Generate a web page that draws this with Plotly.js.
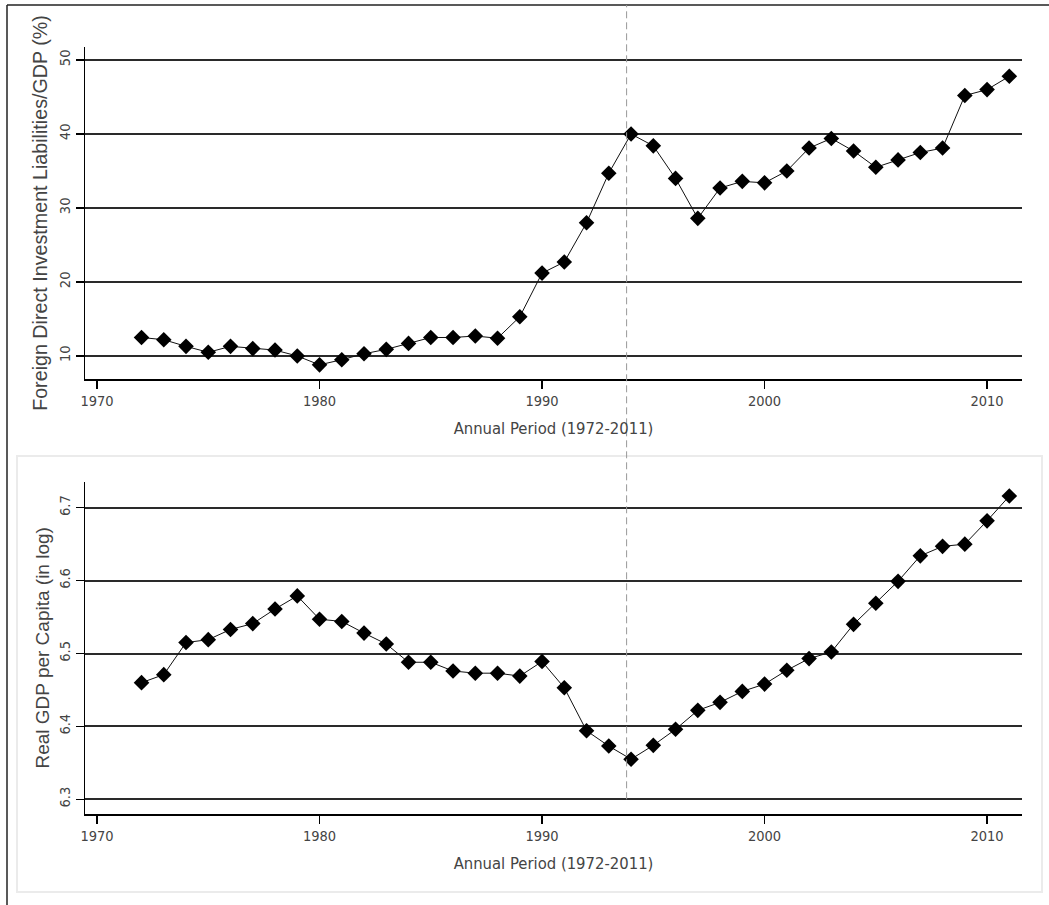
<!DOCTYPE html>
<html>
<head>
<meta charset="utf-8">
<script src="https://cdn.plot.ly/plotly-3.0.1.min.js"></script>
<style>html,body{margin:0;padding:0;background:#fff;}#chart{width:1049px;height:905px;}</style>
</head>
<body>
<div id="chart"></div>
<script>
// ---- data ----
const years = [1972,1973,1974,1975,1976,1977,1978,1979,1980,1981,1982,1983,1984,1985,1986,1987,1988,1989,1990,1991,
               1992,1993,1994,1995,1996,1997,1998,1999,2000,2001,2002,2003,2004,2005,2006,2007,2008,2009,2010,2011];
const fdiLiabilitiesGdp = [12.5,12.2,11.3,10.5,11.3,11.0,10.8,10.0,8.8,9.5,
                           10.3,10.9,11.7,12.5,12.5,12.7,12.4,15.3,21.2,22.7,
                           28.0,34.7,40.0,38.4,34.0,28.6,32.7,33.6,33.4,35.0,
                           38.1,39.4,37.7,35.5,36.5,37.5,38.1,45.2,46.0,47.8];
const logRealGdpPc = [6.460,6.471,6.515,6.519,6.533,6.541,6.561,6.579,6.547,6.544,
                      6.528,6.513,6.488,6.488,6.476,6.473,6.473,6.469,6.489,6.453,
                      6.394,6.373,6.355,6.374,6.396,6.422,6.433,6.448,6.458,6.477,
                      6.493,6.502,6.540,6.569,6.599,6.634,6.647,6.650,6.682,6.716];
const xTickVals = [1970,1980,1990,2000,2010];
const xTickText = ['1970','1980','1990','2000','2010'];
const topTickVals = [10,20,30,40,50];
const topTickText = ['10','20','30','40','50'];
const botTickVals = [6.3,6.4,6.5,6.6,6.7];
const botTickText = ['6.3','6.4','6.5','6.6','6.7'];
const breakYear = 1993.8;
const xTitle = 'Annual Period (1972-2011)';
const topYTitle = 'Foreign Direct Investment Liabilities/GDP (%)';
const botYTitle = 'Real GDP per Capita (in log)';

// ---- layout geometry (pixels) ----
const W = 1049, H = 905;
const M = {l: 85, r: 27, t: 47, b: 91};
const PW = W - M.l - M.r, PH = H - M.t - M.b;
const px = x => (x - M.l) / PW;             // pixel x -> paper
const py = y => (H - M.b - y) / PH;         // pixel y -> paper

const narrow = '"DejaVu Sans Condensed", "Liberation Sans Narrow", "Arial Narrow", sans-serif';
const sans = '"Liberation Sans", Arial, sans-serif';

const markerStyle = {symbol: 'diamond', size: 12, color: '#000', line: {width: 0}};
const lineStyle = {color: '#111', width: 1};

const traces = [
  {x: years, y: fdiLiabilitiesGdp, xaxis: 'x', yaxis: 'y', type: 'scatter', mode: 'lines+markers',
   marker: markerStyle, line: lineStyle, hoverinfo: 'x+y', showlegend: false},
  {x: years, y: logRealGdpPc, xaxis: 'x2', yaxis: 'y2', type: 'scatter', mode: 'lines+markers',
   marker: markerStyle, line: lineStyle, hoverinfo: 'x+y', showlegend: false}
];

const xCommon = {
  range: [1969.46, 2011.57], tickvals: xTickVals, ticktext: xTickText,
  showgrid: false, zeroline: false, showline: true, linecolor: '#000', linewidth: 1.5,
  ticks: 'outside', ticklen: 8, tickwidth: 1.2, tickcolor: '#000', ticklabelstandoff: 0,
  tickfont: {family: narrow, size: 14.5, color: '#444'},
  title: {text: xTitle, font: {family: narrow, size: 16.5, color: '#444'}, standoff: 14}
};
const yCommon = {
  showgrid: true, gridcolor: '#2a2a2a', gridwidth: 2, zeroline: false,
  showline: true, linecolor: '#000', linewidth: 1.5,
  ticks: 'outside', ticklen: 8, tickwidth: 1.2, tickcolor: '#000', tickangle: -90,
  tickfont: {family: narrow, size: 14.5, color: '#444'}
};

const layout = {
  width: W, height: H, margin: M,
  paper_bgcolor: '#fff', plot_bgcolor: 'rgba(0,0,0,0)',
  showlegend: false,
  xaxis: Object.assign({}, xCommon, {domain: [0, 1], anchor: 'y'}),
  yaxis: Object.assign({}, yCommon, {domain: [py(379), 1], anchor: 'x', range: [6.89, 51.76],
    tickvals: topTickVals, ticktext: topTickText,
    title: {text: topYTitle, font: {family: sans, size: 19.7, color: '#444'}, standoff: 4}}),
  xaxis2: Object.assign({}, xCommon, {domain: [0, 1], anchor: 'y2'}),
  yaxis2: Object.assign({}, yCommon, {domain: [0, py(481.7)], anchor: 'x2', range: [6.2798, 6.7357],
    tickvals: botTickVals, ticktext: botTickText,
    title: {text: botYTitle, font: {family: sans, size: 19, color: '#444'}, standoff: 2}}),
  shapes: [
    // light frame around lower panel
    {type: 'rect', xref: 'paper', yref: 'paper', x0: px(17), x1: px(1042), y0: py(892), y1: py(456),
     line: {color: '#ebebeb', width: 2}, fillcolor: 'rgba(0,0,0,0)', layer: 'below'},
    // outer image border (left and top)
    {type: 'line', xref: 'paper', yref: 'paper', x0: px(7), x1: px(7), y0: py(905), y1: py(5),
     line: {color: '#222', width: 1.5}},
    {type: 'line', xref: 'paper', yref: 'paper', x0: px(7), x1: px(1049), y0: py(5), y1: py(5),
     line: {color: '#222', width: 1.5}},
    // dashed reference line
    {type: 'line', xref: 'x', yref: 'paper', x0: breakYear, x1: breakYear, y0: py(799.3), y1: py(5),
     line: {color: '#999', width: 1, dash: '7px,4px'}, layer: 'above'}
  ]
};

Plotly.newPlot('chart', traces, layout, {staticPlot: true, displayModeBar: false});
</script>
</body>
</html>
